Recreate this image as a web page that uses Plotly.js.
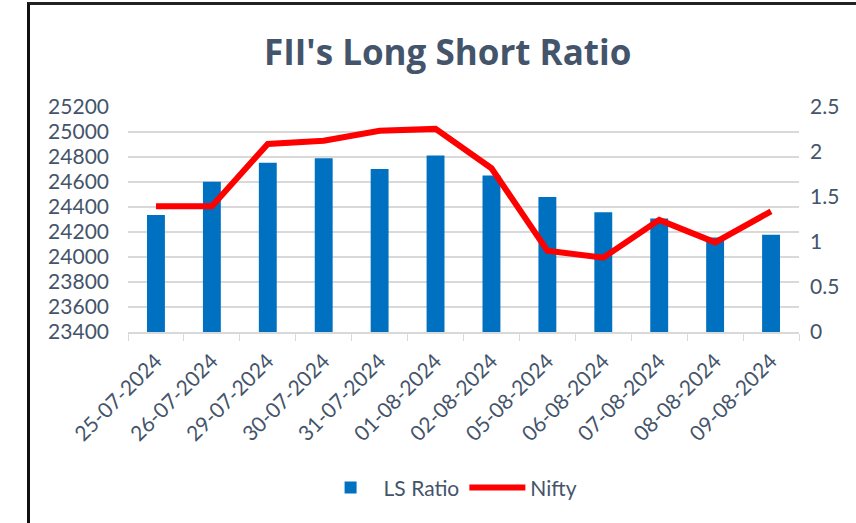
<!DOCTYPE html>
<html>
<head>
<meta charset="utf-8">
<script src="https://cdn.plot.ly/plotly-3.0.1.min.js"></script>
<style>
  html, body { margin: 0; padding: 0; background: #fff; }
  #wrap { position: relative; width: 856px; height: 523px; }
  #chart { width: 856px; height: 523px; }
  #frame { position: absolute; left: 27px; top: 2px; width: 829px; height: 521px;
           border-left: 3px solid #111; border-top: 3px solid #222; box-sizing: border-box; pointer-events: none; }
</style>
</head>
<body>
<div id="wrap">
  <div id="chart"></div>
  <div id="frame"></div>
</div>
<script>
const dates = ["25-07-2024","26-07-2024","29-07-2024","30-07-2024","31-07-2024","01-08-2024",
               "02-08-2024","05-08-2024","06-08-2024","07-08-2024","08-08-2024","09-08-2024"];
const lsRatio = [1.30, 1.67, 1.88, 1.93, 1.81, 1.96, 1.74, 1.50, 1.33, 1.26, 1.05, 1.08];
const nifty = [24406, 24406, 24905, 24930, 25010, 25025, 24710, 24050, 23995, 24297, 24117, 24365];
const leftTicks = [23400, 23600, 23800, 24000, 24200, 24400, 24600, 24800, 25000, 25200];
const rightTicks = [0, 0.5, 1, 1.5, 2, 2.5];

const txt = "#44546A";
const font = "Lato, 'Open Sans', sans-serif";
const lMin = leftTicks[0], lMax = leftTicks[leftTicks.length - 1];
const rMin = rightTicks[0], rMax = rightTicks[rightTicks.length - 1];
const gridOnRight = leftTicks.map(v => rMin + (v - lMin) / (lMax - lMin) * (rMax - rMin));

const traces = [
  { type: "bar", name: "LS Ratio", x: dates, y: lsRatio, yaxis: "y",
    marker: { color: "#0070C0" } },
  { type: "scatter", mode: "lines", name: "Nifty", x: dates, y: nifty, yaxis: "y2",
    line: { color: "#FF0000", width: 6 } }
];

const layout = {
  width: 856, height: 523,
  margin: { l: 128, r: 57, t: 107, b: 191 },
  paper_bgcolor: "#fff", plot_bgcolor: "#fff",
  font: { family: font, size: 21, color: txt },
  title: { text: "<b>FII's Long Short Ratio</b>", font: { family: "'Open Sans', Lato, sans-serif", size: 35, color: txt },
           x: 0.523, xref: "container", xanchor: "center", y: 0.90, yref: "container", yanchor: "middle" },
  bargap: 0.68,
  showlegend: true,
  legend: { orientation: "h", x: 0.48, xanchor: "center", y: -0.693, yanchor: "middle",
            font: { size: 21, color: txt }, itemwidth: 56, traceorder: "normal" },
  xaxis: { type: "category", tickangle: -45, showline: true, linecolor: "#D9D9D9", linewidth: 1.5,
           ticks: "outside", tickson: "boundaries", ticklen: 7, tickcolor: "#D9D9D9",
           ticklabelstandoff: 7,
           showgrid: false, tickfont: { size: 21, color: txt } },
  yaxis: { side: "right", range: [rMin, rMax], tickvals: rightTicks, ticktext: rightTicks.map(String),
           showgrid: false, zeroline: false, ticklabelstandoff: 10,
           minor: { tickmode: "array", tickvals: gridOnRight, showgrid: true, gridcolor: "#D9D9D9", gridwidth: 1.5, ticks: "" },
           tickfont: { size: 21, color: txt } },
  yaxis2: { side: "left", overlaying: "y", range: [lMin, lMax], tickvals: leftTicks, ticktext: leftTicks.map(String),
            showgrid: false, zeroline: false, ticklabelstandoff: 18, tickfont: { size: 21, color: txt } }
};

Plotly.newPlot("chart", traces, layout, { displayModeBar: false, staticPlot: true });
</script>
</body>
</html>
